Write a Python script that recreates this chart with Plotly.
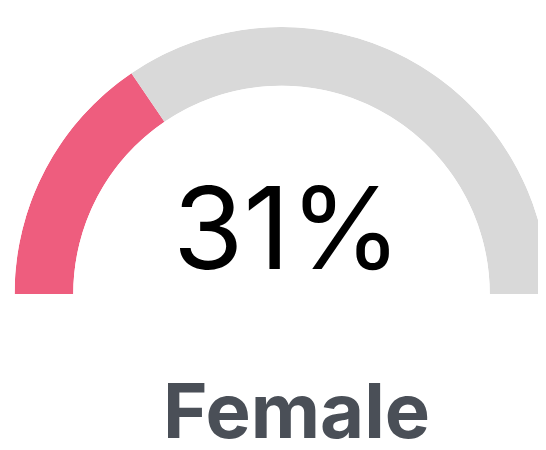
import plotly.graph_objects as go

value_pct = 31
label = "Female"
segment_names = ["value", "rest"]
segment_colors = ["#ee5d7e", "#d9d9d9"]

span = 180.0
val_deg = value_pct / 100 * span
rest_deg = span - val_deg
widths = [val_deg, rest_deg]
thetas = [span - val_deg / 2, rest_deg / 2]

fig = go.Figure()
fig.add_trace(go.Barpolar(
    r=[1, 1],
    theta=thetas,
    width=widths,
    marker=dict(color=segment_colors, line=dict(width=0)),
    hoverinfo="skip",
    showlegend=False,
))

fig.update_layout(
    width=546, height=450,
    margin=dict(l=0, r=0, t=0, b=0),
    paper_bgcolor="white",
    plot_bgcolor="white",
    polar=dict(
        domain=dict(x=[6/546, 541/546], y=[164/450, 431/450]),
        sector=[0, 180],
        hole=0.78,
        bgcolor="rgba(0,0,0,0)",
        radialaxis=dict(visible=False, range=[0, 1]),
        angularaxis=dict(visible=False, direction="counterclockwise", rotation=0),
        bargap=0,
    ),
    annotations=[
        dict(text=f"{value_pct}%", x=279/546, y=1 - 219/450, xref="paper", yref="paper",
             showarrow=False, xanchor="center", yanchor="middle",
             font=dict(family="Inter", size=114, color="#000000")),
        dict(text=f"<b>{label}</b>", x=288/546, y=1 - 402/450, xref="paper", yref="paper",
             showarrow=False, xanchor="center", yanchor="middle",
             font=dict(family="Inter", size=76, color="#4a4f57")),
    ],
)

fig.write_html("out.html")
